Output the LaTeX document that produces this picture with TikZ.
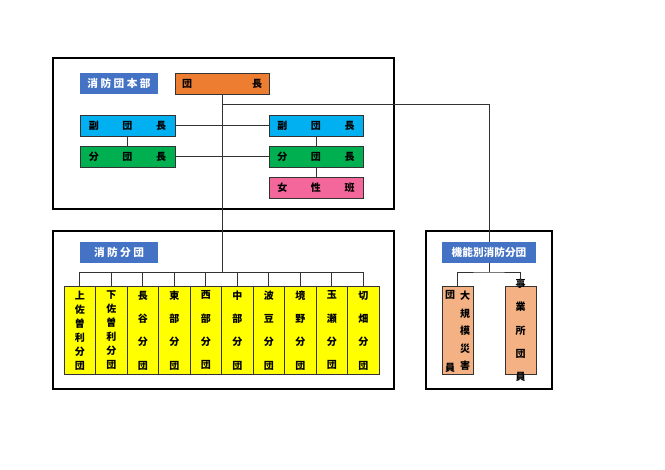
\documentclass[tikz,border=0pt]{standalone}
\usepackage{fontspec}
\setmainfont{Noto Sans CJK JP}
\begin{document}
\begin{tikzpicture}[x=0.75pt,y=-0.75pt,
  frame/.style={draw=black,line width=1.2pt},
  box/.style={draw=black!80,line width=0.6pt,inner sep=0pt,font=\bfseries\fontsize{7.5}{9}\selectfont},
  lbl/.style={inner sep=0pt,font=\bfseries\fontsize{8}{9}\selectfont,text=white,fill=lblue},
  col/.style={box,fill=yel,minimum width={31.5*0.75pt},minimum height={88*0.75pt},anchor=north},
  conn/.style={draw=black!80,line width=0.6pt}]
\definecolor{lblue}{HTML}{4472C4}
\definecolor{orng}{HTML}{ED7D31}
\definecolor{cyn}{HTML}{00B0F0}
\definecolor{grn}{HTML}{00B050}
\definecolor{pnk}{HTML}{F4679A}
\definecolor{yel}{HTML}{FFFF00}
\definecolor{salm}{HTML}{F4B183}
\useasboundingbox (0,0) rectangle (665,470);
% frames
\draw[frame] (53,58) rectangle (394,209);
\draw[frame] (53,231) rectangle (394,389);
\draw[frame] (426,231) rectangle (552,389);
% HQ
\node[lbl,minimum width={78*0.75pt},minimum height={21*0.75pt}] (hq) at (119,83.5) {消 防 団 本 部};
\node[box,fill=orng,minimum width={94*0.75pt},minimum height={21*0.75pt}] (dan) at (222,83.5) {\makebox[60pt]{団\hfill 長}};
\node[box,fill=cyn,minimum width={95*0.75pt},minimum height={21*0.75pt}] (fl) at (127.5,125.5) {\makebox[58pt]{副\hfill 団\hfill 長}};
\node[box,fill=cyn,minimum width={94*0.75pt},minimum height={21*0.75pt}] (fr) at (316,125.5) {\makebox[58pt]{副\hfill 団\hfill 長}};
\node[box,fill=grn,minimum width={95*0.75pt},minimum height={21*0.75pt}] (bl) at (127.5,156.5) {\makebox[58pt]{分\hfill 団\hfill 長}};
\node[box,fill=grn,minimum width={94*0.75pt},minimum height={21*0.75pt}] (br) at (316,156.5) {\makebox[58pt]{分\hfill 団\hfill 長}};
\node[box,fill=pnk,minimum width={94*0.75pt},minimum height={21*0.75pt}] (jo) at (316,187.5) {\makebox[58pt]{女\hfill 性\hfill 班}};
\draw[conn] (fl) -- (fr);
\draw[conn] (bl) -- (br);
\draw[conn] (fl) -- (bl);
\draw[conn] (fr) -- (br);
\draw[conn] (br) -- (jo);
% branches
\node[lbl,minimum width={78*0.75pt},minimum height={21*0.75pt}] (sb) at (119,252.5) {消 防 分 団};
\node[lbl,minimum width={94*0.75pt},minimum height={21*0.75pt}] (kb) at (489,252.5) {機能別消防分団};
\coordinate (bus) at (222,272);
\coordinate (tee) at (222,104);
\draw[conn] (dan.south) -- (bus);
\draw[conn] (tee) -| (kb.north);
% columns
\def\sixs{\fontsize{7.5}{10.5}\selectfont}
\def\fours{\fontsize{7.5}{17.5}\selectfont}
\foreach \i/\t/\f in {0/上\\佐\\曽\\利\\分\\団/\sixs,1/下\\佐\\曽\\利\\分\\団/\sixs,2/長\\谷\\分\\団/\fours,3/東\\部\\分\\団/\fours,4/西\\部\\分\\団/\fours,5/中\\部\\分\\団/\fours,6/波\\豆\\分\\団/\fours,7/境\\野\\分\\団/\fours,8/玉\\瀬\\分\\団/\fours,9/切\\畑\\分\\団/\fours}{
  \node[col] (c\i) at ({79.75+\i*31.5},286) {};
  \node[inner sep=0pt,align=center,font=\bfseries\f] (t\i) at (c\i.center) {\t};
  \draw[conn] (c\i.north) -- ({79.75+\i*31.5},272) -- (bus);
}
% functional
\node[box,fill=salm,minimum width={31*0.75pt},minimum height={88*0.75pt},anchor=north] (d1) at (457.5,286) {};
\node[box,fill=salm,minimum width={31*0.75pt},minimum height={88*0.75pt},anchor=north] (d2) at (520.5,286) {};
\node[inner sep=0pt,align=center,font=\bfseries\fontsize{7.5}{13.1}\selectfont] (d1a) at (465,331) {大\\規\\模\\災\\害};
\node[inner sep=0pt,align=center,font=\bfseries\fontsize{7.5}{54.75}\selectfont] (d1b) at (450,331) {団\\員};
\node[inner sep=0pt,align=center,font=\bfseries\fontsize{7.5}{17.5}\selectfont] (d2a) at (d2.center) {事\\業\\所\\団\\員};
\draw[conn] (d1.north) |- (489,272) -| (d2.north);
\draw[conn] (kb.south) -- (489,272);
\end{tikzpicture}
\end{document}
